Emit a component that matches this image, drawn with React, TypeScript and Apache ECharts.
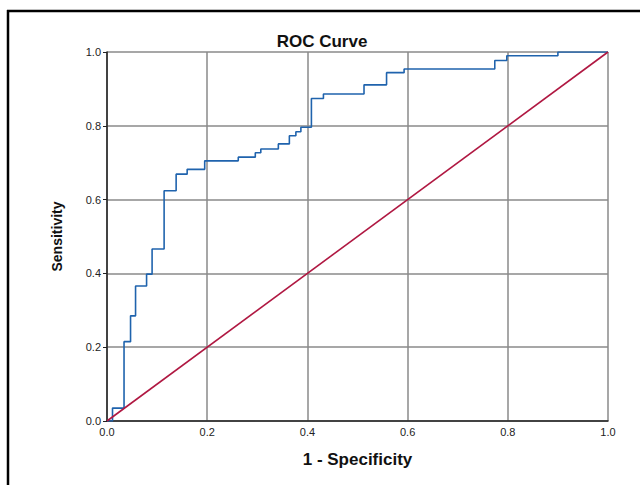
import React, { useEffect, useRef } from "react";
import * as echarts from "echarts";

const fpr = [0, 0.011, 0.034, 0.047, 0.057, 0.079, 0.09, 0.114, 0.138, 0.16, 0.195, 0.262, 0.296, 0.307, 0.342, 0.364, 0.377, 0.387, 0.408, 0.432, 0.513, 0.558, 0.593, 0.774, 0.798, 0.9, 1.0];
const tpr = [0, 0.035, 0.215, 0.285, 0.366, 0.398, 0.466, 0.624, 0.669, 0.682, 0.705, 0.715, 0.727, 0.737, 0.751, 0.773, 0.784, 0.796, 0.874, 0.886, 0.911, 0.944, 0.954, 0.977, 0.99, 1.0, 1.0];
const refX = [0, 1];
const refY = [0, 1];

const FONT = "'Liberation Sans', Arial, sans-serif";

export default function App() {
  const ref = useRef<HTMLDivElement>(null);
  useEffect(() => {
    if (!ref.current) return;
    const chart = echarts.init(ref.current, undefined, { renderer: "svg" });
    chart.setOption({
      animation: false,
      backgroundColor: "#ffffff",
      title: {
        text: "ROC Curve",
        left: 317,
        top: 28,
        textAlign: "center",
        textStyle: { fontFamily: FONT, fontSize: 17, fontWeight: "bold", color: "#111" },
      },
      graphic: [
        { type: "line", shape: { x1: 7, y1: 11, x2: 640, y2: 11 }, style: { stroke: "#000", lineWidth: 2.5 } },
        { type: "line", shape: { x1: 8, y1: 10, x2: 8, y2: 485 }, style: { stroke: "#000", lineWidth: 2.5 } },
      ],
      grid: { left: 107, right: 32, top: 52, bottom: 64 },
      xAxis: {
        type: "value",
        min: 0,
        max: 1,
        interval: 0.2,
        name: "1 - Specificity",
        nameLocation: "middle",
        nameGap: 30,
        nameTextStyle: { fontFamily: FONT, fontSize: 17, fontWeight: "bold", color: "#111" },
        axisLine: { show: true, lineStyle: { color: "#222", width: 1.5 } },
        axisTick: { show: false },
        axisLabel: { fontFamily: FONT, fontSize: 11, color: "#222", margin: 5, formatter: (v: number) => v.toFixed(1) },
        splitLine: { show: true, lineStyle: { color: "#8a8a8a", width: 1.5 } },
      },
      yAxis: {
        type: "value",
        min: 0,
        max: 1,
        interval: 0.2,
        name: "Sensitivity",
        nameLocation: "middle",
        nameGap: 43,
        nameRotate: 90,
        nameTextStyle: { fontFamily: FONT, fontSize: 14, fontWeight: "bold", color: "#111" },
        axisLine: { show: true, lineStyle: { color: "#222", width: 1.5 } },
        axisTick: { show: true, length: 4, lineStyle: { color: "#222" } },
        axisLabel: { fontFamily: FONT, fontSize: 11, color: "#222", margin: 6, formatter: (v: number) => v.toFixed(1) },
        splitLine: { show: true, lineStyle: { color: "#8a8a8a", width: 1.5 } },
      },
      series: [
        {
          type: "line",
          step: "end",
          data: fpr.map((x, i) => [x, tpr[i]]),
          symbol: "none",
          lineStyle: { color: "#1f63ad", width: 1.6 },
          z: 3,
        },
        {
          type: "line",
          data: refX.map((x, i) => [x, refY[i]]),
          symbol: "none",
          lineStyle: { color: "#b01842", width: 1.6 },
          z: 4,
        },
      ],
    });
    return () => chart.dispose();
  }, []);
  return (
    <div
      ref={ref}
      style={{ position: "fixed", left: 0, top: 0, width: 640, height: 485 }}
    />
  );
}
